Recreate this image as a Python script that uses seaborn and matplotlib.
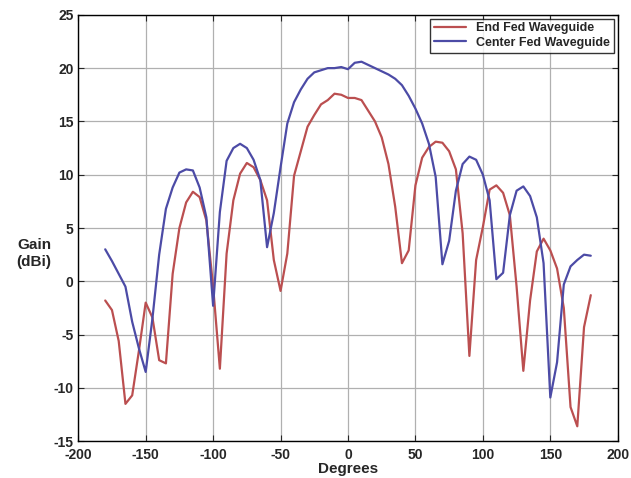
import numpy as np
import pandas as pd
import seaborn as sns
import matplotlib.pyplot as plt

# angles in degrees, 5 degree steps
degrees = list(range(-180, 181, 5))

end_fed = [-1.8, -2.7, -5.6, -11.5, -10.7, -6.5, -2.0, -3.4, -7.4, -7.7,
           0.7, 5.0, 7.4, 8.4, 7.9, 5.7, -0.5, -8.2, 2.6, 7.6,
           10.1, 11.1, 10.7, 9.5, 7.6, 2.0, -0.9, 2.6, 9.9, 12.2,
           14.5, 15.6, 16.6, 17.0, 17.6, 17.5, 17.2, 17.2, 17.0, 16.0,
           15.0, 13.5, 11.0, 7.0, 1.7, 2.9, 9.0, 11.6, 12.6, 13.1,
           13.0, 12.2, 10.5, 4.5, -7.0, 2.0, 5.1, 8.6, 9.0, 8.3,
           6.2, -0.5, -8.4, -1.8, 2.8, 4.0, 2.9, 1.2, -2.5, -11.8,
           -13.6, -4.3, -1.3]

center_fed = [3.0, 1.9, 0.7, -0.5, -3.8, -6.3, -8.5, -3.5, 2.5, 6.8,
              8.8, 10.2, 10.5, 10.4, 8.8, 6.0, -2.3, 6.5, 11.3, 12.5,
              12.9, 12.5, 11.4, 9.5, 3.2, 6.4, 10.7, 14.8, 16.8, 18.0,
              19.0, 19.6, 19.8, 20.0, 20.0, 20.1, 19.9, 20.5, 20.6, 20.3,
              20.0, 19.7, 19.4, 19.0, 18.4, 17.4, 16.2, 14.8, 12.9, 9.8,
              1.6, 3.8, 8.5, 11.0, 11.7, 11.4, 10.0, 7.6, 0.2, 0.8,
              6.2, 8.5, 8.9, 8.0, 6.0, 1.7, -10.9, -7.6, -0.3, 1.4,
              2.0, 2.5, 2.4]

series_names = ["End Fed Waveguide", "Center Fed Waveguide"]
colors = ["#bb4f50", "#4c4ba6"]

df = pd.DataFrame({
    "Degrees": degrees * 2,
    "Gain": end_fed + center_fed,
    "Antenna": [series_names[0]] * len(degrees) + [series_names[1]] * len(degrees),
})

sns.set_style("ticks")
plt.rcParams["font.family"] = ["Liberation Sans", "DejaVu Sans"]
plt.rcParams["axes.unicode_minus"] = False

fig = plt.figure(figsize=(6.31, 4.78), dpi=100)
ax = fig.add_axes([0.124, 0.077, 0.855, 0.892])

sns.lineplot(data=df, x="Degrees", y="Gain", hue="Antenna",
             palette=dict(zip(series_names, colors)), linewidth=1.6, ax=ax)

ax.set_xlim(-200, 200)
ax.set_ylim(-15, 25)
ax.set_xticks(range(-200, 201, 50))
ax.set_yticks(range(-15, 26, 5))
ax.grid(True, color="#b0b0b0", linewidth=0.9)
ax.tick_params(direction="in", top=True, right=True, labelsize=10, length=4)
ax.tick_params(axis="x", pad=5)
for lab in ax.get_xticklabels() + ax.get_yticklabels():
    lab.set_fontweight("bold")
for s in ax.spines.values():
    s.set_linewidth(1.0)
    s.set_color("black")

ax.set_xlabel("Degrees", fontsize=11, fontweight="bold", labelpad=0)
ax.set_ylabel("Gain\n(dBi)", fontsize=11, fontweight="bold", rotation=0,
              va="center", ha="center")
ax.yaxis.set_label_coords(-0.082, 0.44)

leg = ax.legend(loc="upper right", fontsize=9, frameon=True, fancybox=False,
                borderpad=0.3, labelspacing=0.2, handlelength=2.6,
                borderaxespad=0.3)
leg.get_frame().set_edgecolor("black")
leg.get_frame().set_linewidth(1.0)
for t in leg.get_texts():
    t.set_fontweight("bold")

fig.savefig("out.png", dpi=100)
